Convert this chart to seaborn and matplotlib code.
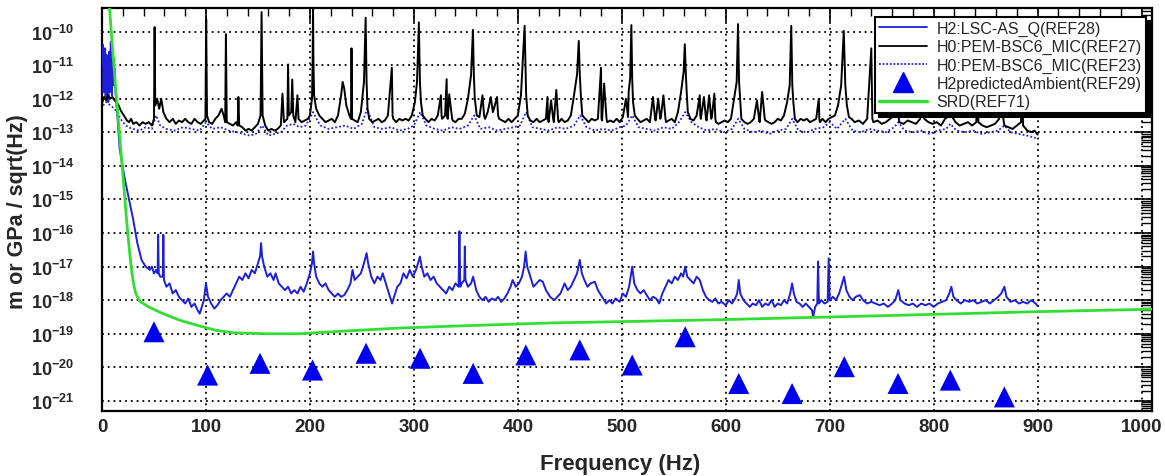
import numpy as np
import pandas as pd
import matplotlib
matplotlib.use("Agg")
import matplotlib.pyplot as plt
from matplotlib.ticker import MultipleLocator, LogLocator, FixedLocator, NullFormatter
from matplotlib.lines import Line2D
import seaborn as sns

# ---------------- data (frequency in Hz, value as log10 exponent) ----------------
# H2:LSC-AS_Q(REF28)  blue solid
ref28_freq = [0.5, 1, 1.5, 2, 2.5, 3, 3.5, 4, 4.5, 5, 5.5, 6, 6.5, 7, 7.5, 8, 8.5, 9, 9.5, 10, 10.5, 11, 11.5, 12,
              13, 15, 17, 22, 26, 30, 34, 38, 42, 46, 48, 50, 52, 53.5, 54, 54.6, 56, 58.5, 59, 59.6, 62, 65, 68, 71,
              74, 77, 80, 83, 86, 89, 92, 94, 96, 98, 100, 102, 105, 108, 111, 114, 117, 120, 123, 126, 129, 132,
              135, 138, 141, 144, 147, 150, 152, 153, 154, 156, 159, 162, 165, 167, 170, 173, 176, 179, 182, 185,
              188, 191, 194, 197, 200, 202, 203, 204, 206, 209, 212, 215, 218, 221, 224, 227, 230, 233, 236, 239,
              241, 243, 246, 249, 252, 254.5, 256, 259, 262, 265, 268, 270, 273, 276, 279, 281, 284, 287, 290, 293,
              296, 299, 302, 304, 305.8, 307.5, 310, 313, 316, 319, 322, 325, 328, 331, 334, 337, 340, 343, 343.8,
              344.6, 346, 348.5, 349, 349.6, 352, 355, 357, 360, 363, 366, 369, 372, 375, 378, 381, 384, 387, 390,
              393, 395, 398, 401, 404, 406, 407.5, 409, 412, 415, 418, 421, 424, 427, 431, 435, 438, 441, 445, 448,
              451, 454, 457, 459.6, 461.5, 464, 467, 470, 474, 477, 481, 485, 488, 491, 494, 498, 501, 504, 507,
              510, 512, 515, 518, 521, 524, 527, 530, 533, 536, 539, 542, 545, 548, 551, 554, 557, 559, 561, 563,
              566, 569, 572, 575, 578, 581, 584, 587, 590, 593, 596, 600, 603, 606, 609, 611, 612.5, 614, 617, 620,
              623, 626, 629, 632, 635, 638, 641, 644, 647, 650, 653, 656, 659, 662, 663.8, 665.5, 668, 671, 674,
              677, 680, 683, 684, 686, 688, 688.8, 689.6, 692, 695, 698, 699, 700, 703, 706, 709, 711, 713.8, 716,
              719, 722, 725, 729, 732, 736, 740, 744, 748, 752, 756, 760, 763, 766, 768, 772, 776, 780, 784, 788,
              792, 796, 800, 804, 808, 812, 815, 817, 819, 822, 826, 830, 834, 838, 842, 846, 850, 854, 858, 862,
              865, 868, 870, 874, 878, 882, 886, 890, 894, 898, 900]
ref28_exp = [-11.0, -10.4, -11.8, -10.8, -11.5, -10.5, -12.0, -11.0, -10.7, -11.6, -10.9, -12.1, -11.2, -10.6, -11.8,
             -11.0, -10.3, -11.5, -11.9, -10.9, -11.4, -10.8, -11.6, -11.1,
             -11.8, -12.6, -13.5, -14.4, -15.0, -15.6, -16.3, -16.8, -17.0, -17.1, -17.0, -17.2, -17.1, -17.2, -16.05,
             -17.2, -17.3, -17.3, -16.05, -17.4, -17.6, -17.5, -17.8, -17.7,
             -17.9, -18.0, -18.1, -17.95, -18.2, -18.1, -18.3, -18.4, -18.2, -18.0, -17.5, -17.9, -18.1, -18.25,
             -18.15, -18.0, -17.9, -17.8, -17.9, -17.7, -17.5, -17.3,
             -17.4, -17.2, -17.35, -17.1, -17.2, -16.9, -16.7, -16.3, -16.7, -17.0, -17.3, -17.2, -17.4, -17.2,
             -17.5, -17.6, -17.7, -17.6, -17.8, -17.7,
             -17.8, -17.6, -17.75, -17.5, -17.2, -16.9, -16.55, -16.9, -17.3, -17.5, -17.6, -17.5, -17.7, -17.8,
             -17.9, -17.8, -17.9, -17.85, -17.7, -17.5,
             -17.1, -17.4, -17.3, -17.2, -16.9, -16.6, -16.9, -17.3, -17.5, -17.3, -17.4, -17.2, -17.5, -17.8,
             -18.1, -17.9, -17.6, -17.5, -17.2, -17.35,
             -17.1, -17.3, -17.1, -16.9, -16.7, -17.0, -17.3, -17.2, -17.4, -17.3, -17.5, -17.6, -17.7, -17.8,
             -17.6, -17.7, -17.5, -17.6, -15.95,
             -17.6, -17.5, -17.4, -16.4, -17.4, -17.6, -17.5, -17.3, -17.7, -17.9, -18.0, -17.9, -18.05, -17.95,
             -18.0, -17.9, -18.05, -17.95, -17.8,
             -17.6, -17.4, -17.6, -17.5, -17.3, -17.0, -16.55, -17.0, -17.3, -17.6, -17.5, -17.4, -17.45, -17.7,
             -17.9, -18.0, -17.9, -17.8, -17.5, -17.7,
             -17.6, -17.4, -17.2, -16.8, -17.2, -17.4, -17.6, -17.5, -17.45, -17.7, -17.9, -18.1, -18.0, -18.1,
             -17.95, -18.05, -17.8, -17.9, -17.6,
             -17.0, -17.5, -17.7, -17.8, -17.7, -17.85, -18.0, -17.9, -17.95, -18.1, -17.8, -17.6, -17.4, -17.5,
             -17.3, -17.4, -17.2, -17.3, -17.0, -17.3,
             -17.4, -17.5, -17.3, -17.4, -17.7, -17.9, -18.0, -18.05, -17.95, -18.1, -18.05, -18.15, -18.0, -18.1,
             -17.95, -17.8, -17.4, -17.8, -18.0, -18.1,
             -18.2, -18.1, -18.15, -18.0, -18.2, -18.1, -18.15, -18.0, -18.2, -18.1, -18.15, -18.0, -18.1, -17.8,
             -17.5, -17.8, -18.05, -18.1, -18.2,
             -18.1, -18.2, -18.3, -18.5, -18.2, -18.1, -16.85, -18.1, -18.0, -18.1, -18.05, -16.75, -18.0, -17.9,
             -18.0, -17.8, -17.6, -17.3, -17.7,
             -17.9, -18.0, -17.9, -17.85, -18.0, -18.1, -18.05, -18.1, -18.15, -18.1, -18.2, -18.1, -18.0, -17.7,
             -18.0, -18.1, -18.15, -18.1, -18.2, -18.1,
             -18.15, -18.1, -18.2, -18.1, -18.05, -18.0, -17.8, -17.6, -17.9, -18.0, -18.1, -18.0, -18.05, -18.0,
             -18.1, -18.05, -18.0, -18.1, -18.0, -17.9,
             -17.8, -17.6, -17.9, -18.05, -18.0, -18.1, -18.05, -18.1, -18.0, -18.1, -18.17]

# H0:PEM-BSC6_MIC(REF27)  black solid
ref27_freq = [0.5, 2, 4, 6, 8, 10, 12, 14, 16, 18, 20, 22, 24, 26, 28, 30, 33, 36, 39, 42, 45, 48, 50, 50.6, 51.2,
              53, 55, 57, 59, 62, 65, 68, 71, 74, 77, 80, 83, 86, 89, 92, 95, 98, 99.5, 100.2, 101, 103, 106, 109,
              112, 115, 117, 118.5, 119.2, 120, 123, 126, 129, 130.5, 131.2, 132, 135, 138, 141, 144, 147, 150,
              152.5, 153.5, 154.5, 157, 160, 163, 166, 169, 172, 173.6, 175, 178.3, 179, 179.7, 182, 183, 184, 186,
              188, 189, 192, 195, 198, 200, 202, 202.6, 203, 203.4, 204, 206, 209, 212, 215, 218, 221, 224, 227,
              230, 231.5, 233, 235, 238, 239.5, 240, 240.6, 243, 246, 249, 252, 253.6, 254.5, 255.4, 257, 260, 263,
              266, 269, 272, 275, 278.8, 279.5, 280.2, 283, 286, 289, 292, 295, 298, 301, 303, 304.8, 305.8, 306.8,
              308.5, 311, 314, 317, 320, 323, 326, 326.6, 327.2, 330, 331.5, 332, 332.6, 334, 336.8, 337.4, 340,
              343, 346, 349, 352, 355, 356.8, 357.7, 358.6, 360.5, 363, 366, 367.5, 368.5, 371, 374, 376, 377, 380,
              381, 382, 385, 388, 391, 394, 397, 400, 403, 406.5, 408, 409.5, 412, 415, 418, 421, 424, 427, 428.5,
              429, 429.6, 432, 434, 434.6, 437, 438.8, 439.5, 442, 445, 448, 451, 454, 457, 458.6, 459.6, 460.6, 462,
              465, 468, 471, 474, 477, 480, 480.5, 481, 483, 485.3, 486, 489, 492, 495, 498, 501, 504, 506, 506.6,
              508, 509.2, 510, 510.8, 512.5, 515, 518, 521, 524, 527, 530, 532, 532.6, 535, 537, 537.6, 540, 542,
              542.6, 545, 548, 551, 554, 557, 559.5, 560.6, 561.5, 562.4, 563.5, 566, 569, 572, 575, 575.5, 576,
              579, 581, 581.6, 584, 586, 586.6, 589, 590, 590.6, 593, 596, 599, 602, 605, 608, 610.5, 611.8, 612.8,
              613.8, 615, 618, 621, 624, 627, 630, 632, 632.6, 635, 637.5, 638.2, 641, 644, 647, 650, 653, 656, 659,
              661.5, 663, 664, 665, 666.5, 669, 672, 675, 678, 681, 684, 687, 689.5, 690, 690.6, 693, 696, 699, 702,
              705, 708, 711, 713.5, 715, 716.5, 718.5, 721, 724, 728, 732, 736, 740, 741, 742, 746, 750, 754, 758,
              762, 765, 766, 767, 771, 775, 779, 783, 787, 790, 791, 795, 799, 803, 807, 811, 815, 816, 817, 821,
              825, 829, 833, 837, 841, 842, 843, 847, 851, 855, 859, 863, 866, 867, 868, 872, 876, 880, 884, 885,
              886, 890, 894, 897, 900]
ref27_exp = [-12.1, -11.95, -12.05, -11.9, -12.0, -11.95, -12.05, -12.1, -12.2, -12.35, -12.45, -12.55, -12.65, -12.7,
             -12.6, -12.75, -12.7, -12.8, -12.7, -12.75, -12.7, -12.8, -12.6, -9.87, -12.2,
             -12.0, -12.3, -12.0, -12.4, -12.6, -12.7, -12.6, -12.75, -12.65, -12.7, -12.6, -12.7, -12.75, -12.6,
             -12.7, -12.75, -12.65, -12.6, -9.63, -12.5, -12.7, -12.75, -12.6,
             -12.5, -12.3, -12.5, -12.7, -10.08, -12.7, -12.75, -12.8, -12.7, -12.8, -11.95, -12.8, -12.85, -12.95,
             -12.9, -12.95, -12.85, -12.75,
             -12.5, -9.42, -12.5, -12.8, -12.95, -12.9, -12.95, -12.9, -12.8, -11.85, -12.7, -12.6, -10.98, -12.5,
             -12.4, -11.43, -12.5, -12.7,
             -11.9, -12.6, -12.7, -12.65, -12.6, -12.5, -12.0, -10.9, -9.2, -10.9, -11.9, -12.3, -12.5, -12.6,
             -12.7, -12.65, -12.6, -12.7, -12.5,
             -11.9, -11.5, -11.7, -12.2, -12.5, -12.6, -10.5, -12.6, -12.65, -12.7, -12.4, -11.5, -9.59, -11.5,
             -12.3, -12.6, -12.7,
             -12.65, -12.6, -12.7, -12.65, -12.5, -11.08, -12.5, -12.6, -12.7, -12.6, -12.65, -12.6, -12.65, -12.5,
             -12.1, -11.5, -9.73, -11.5,
             -12.1, -12.5, -12.6, -12.7, -12.6, -12.65, -12.5, -11.9, -12.5, -12.6, -12.5, -11.42, -12.55, -12.6,
             -11.87, -12.6, -12.65,
             -12.7, -12.6, -12.6, -12.45, -12.0, -11.3, -9.95, -11.3, -12.0, -12.5, -12.55, -11.9, -12.5, -12.6,
             -12.4, -11.95, -12.4, -12.3,
             -11.95, -12.5, -12.6, -12.65, -12.7, -12.6, -12.7, -12.6, -12.5, -11.9, -9.83, -11.9, -12.5, -12.65,
             -12.7, -12.6, -12.7, -12.65, -12.6,
             -11.95, -12.6, -12.7, -12.05, -12.6, -12.7, -11.74, -12.65, -12.7, -12.6, -12.7, -12.65, -12.5, -11.9,
             -11.27, -10.28, -11.27, -11.9,
             -12.5, -12.6, -12.7, -12.6, -12.65, -12.6, -11.08, -12.6, -12.65, -11.55, -12.6, -12.7, -12.65, -12.7,
             -12.6, -12.7, -12.55, -12.0, -12.55,
             -11.8, -11.4, -9.81, -11.4, -12.1, -12.5, -12.6, -12.7, -12.65, -12.6, -12.7, -11.95, -12.6, -12.65,
             -12.0, -12.6, -12.55, -11.9,
             -12.6, -12.7, -12.65, -12.6, -12.7, -12.4, -11.8, -11.2, -10.38, -11.2, -11.8, -12.4, -12.6, -12.65,
             -12.5, -11.9, -12.5,
             -12.6, -11.95, -12.6, -12.65, -11.9, -12.6, -12.55, -11.85, -12.6, -12.7, -12.75, -12.7, -12.65, -12.7,
             -12.6, -12.0, -11.5, -9.78,
             -11.5, -12.0, -12.6, -12.7, -12.75, -12.7, -12.6, -12.05, -12.6, -12.7, -11.8, -12.6, -12.65, -12.7,
             -12.75, -12.7, -12.6, -12.65, -12.5,
             -12.1, -11.6, -9.83, -11.6, -12.1, -12.6, -12.7, -12.6, -12.65, -12.6, -12.7, -12.65, -12.6, -12.0,
             -12.6, -12.7, -12.6, -12.7, -12.6,
             -12.55, -12.5, -12.2, -11.6, -9.98, -11.6, -12.2, -12.55, -12.6, -12.7, -12.65, -12.75, -12.6, -10.5,
             -12.6, -12.7, -12.65, -12.75, -12.7,
             -12.6, -12.5, -10.0, -12.5, -12.7, -12.75, -12.65, -12.7, -12.75, -12.6, -11.0, -12.6, -12.7, -12.75,
             -12.7, -12.8, -12.6, -12.5, -10.0, -12.5,
             -12.7, -12.8, -12.75, -12.7, -12.8, -12.7, -11.2, -12.7, -12.8, -12.85, -12.8, -12.75, -12.6, -10.3,
             -12.6, -12.8, -12.85, -12.9, -12.8,
             -12.7, -11.5, -12.8, -12.95, -13.0, -12.95, -13.07]

# H0:PEM-BSC6_MIC(REF23)  blue dotted
ref23_freq = [1, 4, 8, 12, 16, 20, 25, 30, 36, 42, 48, 52, 56, 62, 70, 78, 86, 94, 100, 106, 114, 122, 130, 136, 142,
              148, 154, 160, 166, 172, 178, 184, 190, 196, 203, 210, 218, 226, 234, 242, 250, 255, 262, 270, 278,
              286, 294, 300, 306, 312, 320, 328, 336, 344, 352, 358, 364, 372, 380, 388, 396, 402, 408, 414, 422,
              430, 438, 446, 454, 460, 466, 474, 482, 490, 498, 504, 510, 516, 524, 532, 540, 548, 555, 561, 567,
              574, 582, 590, 598, 606, 612, 618, 626, 634, 642, 650, 658, 664, 670, 678, 686, 694, 700, 707, 715,
              722, 730, 738, 746, 754, 762, 766, 772, 780, 788, 796, 804, 812, 816, 822, 830, 838, 846, 854, 862,
              868, 874, 882, 890, 896, 900]
ref23_exp = [-12.2, -12.1, -12.2, -12.3, -12.5, -12.7, -12.85, -12.9, -12.95, -12.85, -12.9, -12.5, -12.8, -12.9,
             -12.95, -12.85, -12.9, -12.95, -12.7, -12.9, -12.85, -12.95, -13.0, -13.05, -13.1,
             -13.05, -12.8, -13.1, -13.05, -13.0, -12.8, -12.75, -12.85, -12.8, -12.4, -12.8, -12.9, -12.85, -12.8,
             -12.9, -12.75, -12.3, -12.85, -12.9, -12.85,
             -12.95, -12.9, -12.8, -12.4, -12.8, -12.9, -12.95, -12.85, -12.9, -12.8, -12.5, -12.9, -12.85, -12.95,
             -12.9, -12.85, -12.8, -12.4, -12.85, -12.9,
             -12.95, -12.85, -12.9, -12.8, -12.5, -12.85, -12.95, -12.9, -12.95, -12.85, -12.8, -12.5, -12.85, -12.9,
             -12.95, -12.85, -12.9, -12.7, -12.4, -12.7,
             -12.85, -12.95, -12.9, -13.0, -12.9, -12.6, -12.9, -13.0, -12.95, -13.05, -12.95, -12.9, -12.6, -12.95,
             -13.0, -12.9, -12.85, -12.7, -12.9, -12.6,
             -12.95, -13.0, -12.9, -12.95, -13.0, -12.85, -12.7, -12.95, -13.0, -12.95, -13.05, -12.95, -12.9, -12.75,
             -12.95, -13.0, -12.95, -13.05, -13.0, -12.95,
             -12.8, -13.0, -13.05, -13.1, -13.15, -13.2]

# SRD(REF71)  green
srd_freq = [7, 10, 14, 18, 21, 23.6, 26, 28, 30, 32, 34, 36.5, 45, 55, 62, 75, 94, 110, 126, 158, 190, 222, 286,
            350, 430, 581, 741, 902, 1010]
srd_exp = [-9.2, -10.45, -12.0, -13.5, -14.6, -15.6, -16.4, -17.0, -17.45, -17.75, -17.9, -18.04, -18.2, -18.35,
           -18.44, -18.6, -18.77, -18.9, -18.97, -19.0, -19.0, -18.94, -18.83, -18.76, -18.68, -18.59, -18.47,
           -18.34, -18.27]

# H2predictedAmbient(REF29)  blue triangles
amb_freq = [50, 101.6, 152, 202.5, 254, 306, 357, 407.7, 459.6, 510, 561, 612.5, 663.8, 714, 765.7, 816, 868]
amb_exp = [-18.94, -20.23, -19.88, -20.08, -19.58, -19.73, -20.18, -19.63, -19.48, -19.93, -19.09, -20.48, -20.78,
           -19.98, -20.48, -20.38, -20.88]

legend_labels = ["H2:LSC-AS_Q(REF28)", "H0:PEM-BSC6_MIC(REF27)", "H0:PEM-BSC6_MIC(REF23)",
                 "H2predictedAmbient(REF29)", "SRD(REF71)"]
x_ticks = [0, 100, 200, 300, 400, 500, 600, 700, 800, 900, 1000]
y_decades = list(range(-21, -9))

# ---------------- styling ----------------
sns.set_theme(style="white")
plt.rcParams["font.family"] = ["Liberation Sans", "DejaVu Sans"]
plt.rcParams["mathtext.fontset"] = "custom"
plt.rcParams["mathtext.rm"] = "Liberation Sans"
plt.rcParams["mathtext.bf"] = "Liberation Sans:bold"

W, H = 1165, 477
fig = plt.figure(figsize=(W / 100, H / 100), dpi=100)
ax_l, ax_r, ax_t, ax_b = 102, 1152, 9, 412
ax = fig.add_axes([ax_l / W, 1 - ax_b / H, (ax_r - ax_l) / W, (ax_b - ax_t) / H])

def frame(f, e):
    return pd.DataFrame({"freq": np.asarray(f, float), "amp": 10.0 ** np.asarray(e, float)})

blue = "#1f1fd6"
tri_blue = "#0000ee"
green = "#33dd33"

sns.lineplot(data=frame(ref23_freq, ref23_exp), x="freq", y="amp", ax=ax, color=blue, lw=1.3,
             linestyle=(0, (1, 1.2)), estimator=None, zorder=3)
sns.lineplot(data=frame(ref28_freq, ref28_exp), x="freq", y="amp", ax=ax, color=blue, lw=1.4,
             estimator=None, zorder=3)
sns.lineplot(data=frame(ref27_freq, ref27_exp), x="freq", y="amp", ax=ax, color="black", lw=1.4,
             estimator=None, zorder=4)
sns.lineplot(data=frame(srd_freq, srd_exp), x="freq", y="amp", ax=ax, color=green, lw=2.0,
             estimator=None, zorder=5)
sns.scatterplot(data=frame(amb_freq, amb_exp), x="freq", y="amp", ax=ax, marker="^", s=230,
                color=tri_blue, edgecolor="none", zorder=6)

ax.set_yscale("log")
ax.set_xlim(0, 1010)
ax.set_ylim(10 ** -21.3, 10 ** -9.3)

# ticks
ax.xaxis.set_major_locator(FixedLocator(x_ticks))
ax.xaxis.set_minor_locator(MultipleLocator(20))
ax.set_xticklabels([str(t) for t in x_ticks])
ax.yaxis.set_major_locator(FixedLocator([10.0 ** d for d in y_decades]))
ax.yaxis.set_minor_locator(LogLocator(base=10, subs=np.arange(2, 10), numticks=40))
ax.yaxis.set_minor_formatter(NullFormatter())
ax.set_yticklabels([r"$\mathbf{10^{%d}}$" % d for d in y_decades])

ax.tick_params(axis="both", which="both", direction="in", top=True, right=True, color="black")
ax.tick_params(axis="x", which="major", length=10, width=1.2, pad=5, labelsize=13.5)
ax.tick_params(axis="x", which="minor", length=6, width=1.0)
ax.tick_params(axis="y", which="major", length=13, width=1.2, pad=20, labelsize=13)
ax.tick_params(axis="y", which="minor", length=8, width=1.0)
for lab in ax.get_xticklabels():
    lab.set_fontweight("bold")

ax.grid(True, which="major", linestyle=(0, (1, 2.2)), color="black", lw=1.3, zorder=1)
ax.set_axisbelow(True)
for sp in ax.spines.values():
    sp.set_color("black")
    sp.set_linewidth(1.6)

ax.set_xlabel("Frequency (Hz)", fontsize=16, fontweight="bold", va="center")
ax.xaxis.set_label_coords((620 - ax_l) / (ax_r - ax_l), (ax_b - 465) / (ax_b - ax_t))
ax.set_ylabel("m or GPa / sqrt(Hz)", fontsize=15.5, fontweight="bold", va="center")
ax.yaxis.set_label_coords((18 - ax_l) / (ax_r - ax_l), (ax_b - 212) / (ax_b - ax_t))

handles = [
    Line2D([], [], color=blue, lw=1.3),
    Line2D([], [], color="black", lw=1.3),
    Line2D([], [], color=blue, lw=1.3, linestyle=(0, (1, 1))),
    Line2D([], [], color=tri_blue, marker="^", markersize=14, linestyle="none"),
    Line2D([], [], color=green, lw=2.5),
]
leg = ax.legend(handles, legend_labels, loc="upper right",
                bbox_to_anchor=((1146 - ax_l) / (ax_r - ax_l), (ax_b - 18) / (ax_b - ax_t)),
                borderaxespad=0, fontsize=11.5, handlelength=3.0, handletextpad=0.6, labelspacing=0.2,
                borderpad=0.25, frameon=True, fancybox=False,
                shadow={"color": "black", "alpha": 1.0, "ox": 3, "oy": -3})
leg.get_frame().set_edgecolor("black")
leg.get_frame().set_linewidth(1.5)
leg.set_zorder(10)

fig.savefig("out.png", dpi=100)
